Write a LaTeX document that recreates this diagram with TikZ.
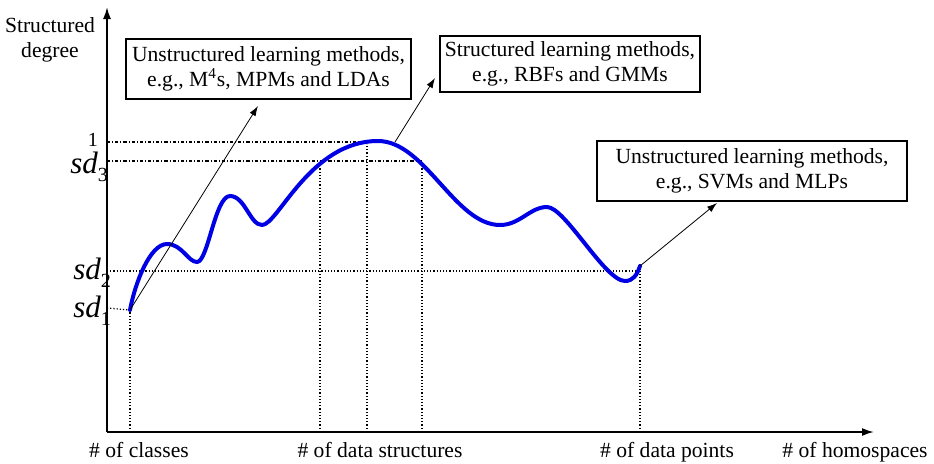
\documentclass[tikz,border=0pt]{standalone}
\usepackage{fontspec}
\setmainfont{Liberation Serif}
\usetikzlibrary{arrows.meta}

\begin{document}
\begin{tikzpicture}[x=0.5pt,y=-0.5pt,>=latex,
        every node/.style={font=\fontsize{10.8}{12.5}\selectfont},
        box/.style={draw,line width=0.6pt,align=center,inner sep=0pt,minimum height=30pt},
        guide/.style={densely dotted,line width=0.6pt},
        guidedd/.style={dash pattern=on 1.6pt off 1pt on 0.5pt off 1pt,line width=0.6pt},
        pointer/.style={-{Latex[length=5pt,width=3.4pt]},line width=0.4pt},
        sdlabel/.style={anchor=base west,inner sep=0pt,font=\fontsize{15.5}{15.5}\selectfont\itshape}]
        \useasboundingbox (0,0) rectangle (934,463);
        % axes
        \coordinate (origin) at (107,432);
        \coordinate (xend) at (874,432);
        \coordinate (yend) at (107,7);
        \draw[line width=0.9pt,-{Latex[length=6pt,width=4pt]}] (origin) -- (xend);
        \draw[line width=0.9pt,-{Latex[length=6pt,width=4pt]}] (origin) -- (yend);
        \node[align=center] (ylabel) at (50,40) {Structured\\degree};
        \node[anchor=base] (lclasses) at (139,457) {\# of classes};
        \node[anchor=base] (lstructs) at (380,457) {\# of data structures};
        \node[anchor=base] (lpoints) at (667,457) {\# of data points};
        \node[anchor=base] (lhomo) at (855,457) {\# of homospaces};
        % levels
        \node[inner sep=0pt,font=\fontsize{10}{10}\selectfont] (lone) at (93,140) {1};
        \node[sdlabel] (lsdthree) at (70,173) {sd\raisebox{-0.28em}{\upshape\fontsize{10}{10}\selectfont 3}};
        \node[sdlabel] (lsdtwo) at (73,279) {sd\raisebox{-0.28em}{\upshape\fontsize{10}{10}\selectfont 2}};
        \node[sdlabel] (lsdone) at (73,317) {sd\raisebox{-0.28em}{\upshape\fontsize{10}{10}\selectfont 1}};
        % key points of the curve
        \coordinate (start) at (130,310);
        \coordinate (peak) at (378,141);
        \coordinate (shoulder) at (395,142);
        \coordinate (finish) at (640,266);
        \draw[guidedd] (107,142) -- (362,142);
        \draw[guidedd] (107,161) -- (422,161);
        \draw[guide] (107,271) -- (640,271);
        \draw[guide] (107,308) -- (start);
        \draw[guide] (130,432) -- (start);
        \draw[guide] (320,432) -- (320,161);
        \draw[guide] (367,432) -- (367,144);
        \draw[guide] (422,432) -- (422,161);
        \draw[guide] (640,432) -- (finish);
        \draw[blue!90!black,line width=2pt,line cap=round,line join=round] (start)
            .. controls (135,283) and (150,244) .. (167,244)
            .. controls (182,244) and (188,262) .. (197,262)
            .. controls (208,262) and (215,196) .. (230,196)
            .. controls (245,196) and (250,225) .. (262,225)
            .. controls (278,225) and (310,141) .. (peak)
            .. controls (425,141) and (455,225) .. (500,225)
            .. controls (520,225) and (530,207) .. (547,207)
            .. controls (565,207) and (605,281) .. (625,281)
            .. controls (633,281) and (637,275) .. (finish);
        % boxes
        \node[box,minimum width=142.5pt] (unsleft) at (268.5,69) {Unstructured learning methods,\\e.g., M\textsuperscript{4}s, MPMs and LDAs};
        \node[box,minimum width=130pt,minimum height=28pt] (strmid) at (570,64) {Structured learning methods,\\e.g., RBFs and GMMs};
        \node[box,minimum width=155pt] (unsright) at (752,171) {Unstructured learning methods,\\e.g., SVMs and MLPs};
        \coordinate (tipleft) at (258,106);
        \coordinate (tipmid) at (435,78);
        \coordinate (tipright) at (717,203);
        \draw[pointer] (start) -- (tipleft);
        \draw[pointer] (shoulder) -- (tipmid);
        \draw[pointer] (finish) -- (tipright);
    \end{tikzpicture}
\end{document}
